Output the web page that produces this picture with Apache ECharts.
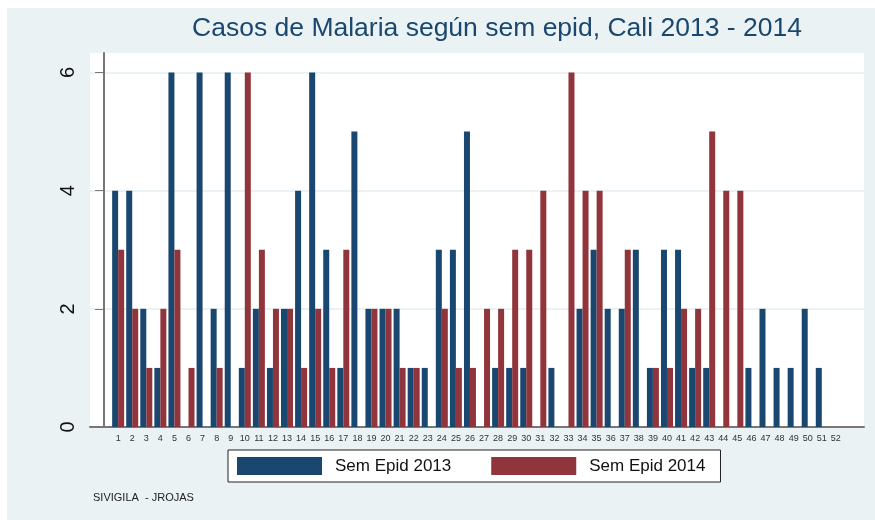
<!DOCTYPE html>
<html>
<head>
<meta charset="utf-8">
<script src="https://cdn.jsdelivr.net/npm/echarts@6/dist/echarts.min.js"></script>
<style>
  html, body { margin: 0; padding: 0; background: #fff; }
  #chart { position: absolute; left: 7px; top: 8px; width: 868px; height: 512px; }
</style>
</head>
<body>
<div id="chart"></div>
<script>
// semanas epidemiologicas 1..52
var weeks = []
for (var i = 1; i <= 52; i++) weeks.push(i)

var casos2013 = [4, 4, 2, 1, 6, 0, 6, 2, 6, 1, 2, 1, 2, 4, 6, 3, 1, 5, 2, 2,
  2, 1, 1, 3, 3, 5, 0, 1, 1, 1, 0, 1, 0, 2, 3, 2, 2, 3, 1, 3,
  3, 1, 1, 0, 0, 1, 2, 1, 1, 2, 1, 0]
var casos2014 = [3, 2, 1, 2, 3, 1, 0, 1, 0, 6, 3, 2, 2, 1, 2, 1, 3, 0, 2, 2,
  1, 1, 0, 2, 1, 1, 2, 2, 3, 3, 4, 0, 6, 4, 4, 0, 3, 0, 1, 1,
  2, 2, 5, 4, 4, 0, 0, 0, 0, 0, 0, 0]
var yTicks = [0, 2, 4, 6]

var navy = '#1a476f'
var maroon = '#90353b'

function pairs(vals) {
  return weeks.map(function (w, i) { return [w, vals[i]] })
}

var chart = echarts.init(document.getElementById('chart'))
chart.setOption({
  backgroundColor: '#eaf2f3',
  animation: false,
  textStyle: { fontFamily: '"Liberation Sans", Arial, sans-serif' },
  title: {
    text: 'Casos de Malaria según sem epid, Cali 2013 - 2014',
    left: 485,
    textAlign: 'center',
    top: 2,
    textStyle: { color: navy, fontSize: 26.5, fontWeight: 'normal' }
  },
  legend: {
    left: 221,
    top: 442,
    itemWidth: 85,
    itemHeight: 18,
    itemGap: 40,
    padding: [7, 15, 7, 9],
    backgroundColor: '#fff',
    borderColor: '#222',
    borderWidth: 1,
    borderRadius: 0,
    icon: 'rect',
    textStyle: { color: '#111', fontSize: 17, padding: [0, 0, 0, 8] },
    data: ['Sem Epid 2013', 'Sem Epid 2014']
  },
  graphic: [{
    type: 'text',
    left: 86,
    top: 484,
    style: { text: 'SIVIGILA  - JROJAS', fill: '#222', fontSize: 11, fontFamily: '"Liberation Sans", Arial, sans-serif' }
  }],
  grid: {
    left: 83,
    right: 11,
    top: 45,
    bottom: 93,
    show: true,
    backgroundColor: '#fff',
    borderWidth: 0
  },
  xAxis: {
    type: 'value',
    min: -1,
    max: 54,
    interval: 1,
    axisLine: { show: true, lineStyle: { color: '#777', width: 2 } },
    axisTick: { show: false },
    splitLine: { show: false },
    axisLabel: {
      color: '#333',
      fontSize: 9,
      margin: 7,
      formatter: function (v) { return (v >= 1 && v <= 52) ? String(v) : '' }
    }
  },
  yAxis: {
    type: 'value',
    min: 0,
    max: 6.33,
    axisLine: { show: true, lineStyle: { color: '#777', width: 2 } },
    axisTick: { show: true, length: 9, customValues: yTicks, lineStyle: { color: '#777', width: 1 } },
    splitLine: { show: true, lineStyle: { color: '#eaf2f3', width: 2 } },
    axisLabel: {
      color: '#111',
      fontSize: 20,
      rotate: 90,
      margin: 12,
      customValues: yTicks
    }
  },
  series: [{
    name: 'Sem Epid 2013',
    type: 'bar',
    barWidth: 6,
    barGap: '0%',
    itemStyle: { color: navy },
    data: pairs(casos2013)
  }, {
    name: 'Sem Epid 2014',
    type: 'bar',
    barWidth: 6,
    barGap: '0%',
    itemStyle: { color: maroon },
    data: pairs(casos2014)
  }]
})
</script>
</body>
</html>
